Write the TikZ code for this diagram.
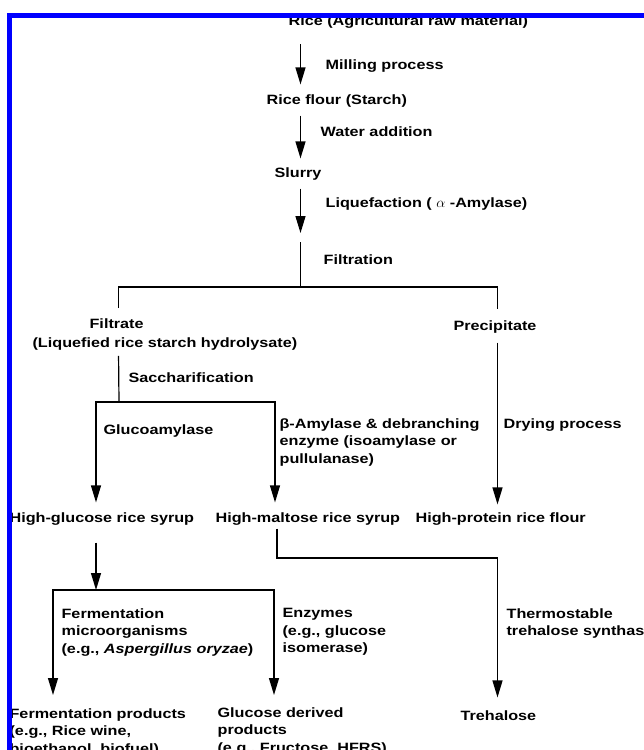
\documentclass[tikz,border=0pt]{standalone}
\usepackage{fontspec}
\setmainfont{Liberation Sans}[FakeStretch=1.2]
\usepackage{tikz}
\usetikzlibrary{arrows.meta,positioning,calc}

\begin{document}
\begin{tikzpicture}[x=1pt, y=-1pt,
  font=\fontsize{13.5}{17.5}\selectfont\bfseries,
  >={Triangle[length=17pt,width=10pt]},
  line width=1.2pt,
  lbl/.style={inner sep=0pt, anchor=base west, text height=10pt, text depth=3pt},
  blk/.style={inner sep=0pt, anchor=north west, align=left},
  flow/.style={->, shorten <=8pt, shorten >=8pt}]
\useasboundingbox (0,0) rectangle (644,750);
\clip (0,0) rectangle (644,750);
\coordinate (stem) at (300.5,0);
\coordinate (lx) at (118.5,0);
\coordinate (rx) at (497.5,0);
\coordinate (gx) at (96,0);
\coordinate (mx) at (275,0);
\coordinate (fx) at (53,0);
\coordinate (ex) at (274,0);
\node[lbl] (rice) at (288,25.5) {Rice (Agricultural raw material)};
\node[lbl] (milling) at (325,69) {Milling process};
\node[lbl] (flour) at (266,104) {Rice flour (Starch)};
\node[lbl] (water) at (320,136) {Water addition};
\node[lbl] (slurry) at (274,177) {Slurry};
\node[lbl] (liquef) at (325,207) {Liquefaction ( $\alpha$ -Amylase)};
\node[lbl] (filtration) at (323,264) {Filtration};
\node[blk] (filtrate) at (32,318) {\hspace*{57pt}Filtrate\\[1.5pt](Liquefied rice starch hydrolysate)};
\node[lbl] (precip) at (453,330) {Precipitate};
\node[lbl] (sacch) at (128,382) {Saccharification};
\node[lbl] (gluco) at (103,434) {Glucoamylase};
\node[blk] (beta) at (279,418) {β-Amylase \& debranching\\enzyme (isoamylase or\\pullulanase)};
\node[lbl] (drying) at (503,428) {Drying process};
\node[lbl] (hglu) at (9,522) {High-glucose rice syrup};
\node[lbl] (hmal) at (215,522) {High-maltose rice syrup};
\node[lbl] (hpro) at (415,522) {High-protein rice flour};
\node[blk] (fmicro) at (61,608) {Fermentation\\microorganisms\\(e.g., \textit{Aspergillus oryzae})};
\node[blk] (enz) at (282,608) {Enzymes\\(e.g., glucose\\isomerase)};
\node[blk] (thermo) at (506,608) {Thermostable\\trehalose synthase};
\node[blk] (fprod) at (9,708) {Fermentation products\\(e.g., Rice wine,\\bioethanol, biofuel)};
\node[blk] (gprod) at (217,707) {Glucose derived\\products\\(e.g., Fructose, HFRS)};
\node[lbl] (treh) at (460,720) {Trehalose};
\coordinate (liqend) at (300.5,233);
\coordinate (filtop) at (300.5,242);
\coordinate (split) at (300.5,287);
\coordinate (saccsplit) at (119,402);
\coordinate (gsplit) at (96,590);
\coordinate (mbend) at (277,558);
\draw[flow, shorten <=15pt, shorten >=9pt] (rice.south -| stem) -- (flour.north -| stem);
\draw[flow] (flour.south -| stem) -- (slurry.north -| stem);
\draw[flow, shorten >=0pt] (slurry.south -| stem) -- (liqend);
\draw (filtop) -- (split);
\draw[shorten <=10pt, shorten >=10pt] (filtrate.north -| lx) |- (split) -| (precip.north -| rx);
\draw[shorten <=5pt] (filtrate.south -| lx) -- (saccsplit);
\draw[->, shorten >=9pt] (saccsplit) -| (hglu.north -| gx);
\draw[->, shorten >=9pt] (saccsplit) -| (hmal.north -| mx);
\draw[->, shorten <=9pt, shorten >=7pt] (precip.south -| rx) -- (hpro.north -| rx);
\draw[->, shorten <=17pt] (hglu.south -| gx) -- (gsplit);
\draw[->, shorten >=13pt] (gsplit) -| (fprod.north -| fx);
\draw[->, shorten >=12pt] (gsplit) -| (gprod.north -| ex);
\draw[->, shorten <=3pt, shorten >=12pt] (hmal.south -| mbend) -- (mbend) -| (treh.north -| rx);
\draw[blue, line width=5pt] (9.8,760) -- (9.8,15.8) -- (660,15.8);
\end{tikzpicture}
\end{document}
